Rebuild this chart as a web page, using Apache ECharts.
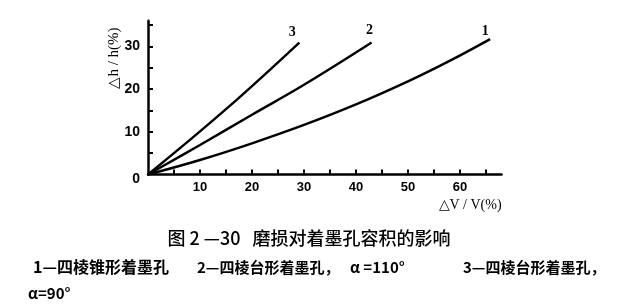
<!DOCTYPE html>
<html>
<head>
<meta charset="utf-8">
<script src="https://cdn.jsdelivr.net/npm/echarts@6/dist/echarts.min.js"></script>
<style>
html,body{margin:0;padding:0;background:#fff;}
#main{width:624px;height:307px;}
</style>
</head>
<body>
<div id="main"></div>
<script>
// ---- data ----
const curve1 = [[0,0],[10,3.4],[20,7.3],[30,11.6],[40,16.4],[50,21.8],[58,26.6],[65.8,31.7]];
const curve2 = [[0,0],[10,6.9],[20,14.0],[30,21.0],[43,30.9]];
const curve3 = [[0,0],[15,15.3],[29.1,30.9]];
const curveNames = ['1','2','3'];
const xTicks = [5,10,15,20,25,30,35,40,45,50,55,60,65];
const xLabels = [10,20,30,40,50,60];
const yTicks = [5,10,15,20,25,30,35];
const yLabels = [0,10,20,30];
const xName = '△V / V(%)';
const yName = '△h / h(%)';
const caption = '图 2 —30   磨损对着墨孔容积的影响';
const note1 = '1—四棱锥形着墨孔';
const note2 = '2—四棱台形着墨孔，';
const note3 = 'α =110°';
const note4 = '3—四棱台形着墨孔，';
const note5 = 'α=90°';

const chart = echarts.init(document.getElementById('main'), null, {renderer:'canvas'});

function endLabel(name, offset){
  return {show:true, formatter:name, distance:0, align:'center', verticalAlign:'middle', offset:offset,
    fontSize:14, fontWeight:'bold', color:'#000', fontFamily:'Liberation Serif'};
}
const lineStyle = {color:'#000', width:2.4};
const tickLabelFont = {fontFamily:'Liberation Sans', fontWeight:'bold', color:'#000'};

chart.setOption({
  backgroundColor:'#fff',
  animation:false,
  grid:{left:148, right:122.4, top:20.8, bottom:132.5, containLabel:false, outerBoundsMode:'none'},
  xAxis:{
    type:'value', min:0, max:68,
    name:xName, nameLocation:'end', nameGap:0,
    nameTextStyle:{align:'right', verticalAlign:'top', padding:[24,0,0,0],
      fontFamily:'Liberation Serif', fontSize:14, color:'#000'},
    axisLine:{show:true, lineStyle:{color:'#000', width:2.5}},
    axisTick:{show:true, inside:true, length:5, customValues:xTicks, lineStyle:{color:'#000', width:2}},
    axisLabel:Object.assign({show:true, margin:6, fontSize:13, customValues:xLabels}, tickLabelFont),
    splitLine:{show:false}
  },
  yAxis:{
    type:'value', min:0, max:36,
    axisLine:{show:true, lineStyle:{color:'#000', width:2.5}},
    axisTick:{show:true, inside:true, length:5, customValues:yTicks, lineStyle:{color:'#000', width:2}},
    axisLabel:Object.assign({show:true, margin:8, fontSize:14, customValues:yLabels,
      formatter:function(v){ return v===0 ? '{z|0}' : String(v); },
      rich:{z:{padding:[10,0,0,0], fontSize:14, fontWeight:'bold', fontFamily:'Liberation Sans', color:'#000'}}
    }, tickLabelFont),
    splitLine:{show:false}
  },
  series:[
    {type:'line', data:curve1, smooth:0.4, symbol:'none', lineStyle:lineStyle, endLabel:endLabel(curveNames[0], [-5,-8])},
    {type:'line', data:curve2, smooth:0.4, symbol:'none', lineStyle:lineStyle, endLabel:endLabel(curveNames[1], [-2,-12])},
    {type:'line', data:curve3, smooth:0.4, symbol:'none', lineStyle:lineStyle, endLabel:endLabel(curveNames[2], [-7,-10])}
  ],
  graphic:[
    {type:'text', x:114, y:58, rotation:Math.PI/2,
      style:{text:yName, fontFamily:'Liberation Serif', fontSize:15, fill:'#000', align:'center', verticalAlign:'middle'}},
    {type:'text', x:309, y:238,
      style:{text:caption, fontFamily:'Noto Sans CJK SC', fontSize:18, fontWeight:500, fill:'#000', align:'center', verticalAlign:'middle'}},
    {type:'text', x:33, y:267,
      style:{text:note1, fontFamily:'Noto Sans CJK SC', fontSize:16, fontWeight:'bold', fill:'#000', align:'left', verticalAlign:'middle'}},
    {type:'text', x:197, y:267,
      style:{text:note2, fontFamily:'Noto Sans CJK SC', fontSize:15, fontWeight:'bold', fill:'#000', align:'left', verticalAlign:'middle'}},
    {type:'text', x:350, y:267,
      style:{text:note3, fontFamily:'Noto Sans CJK SC', fontSize:15, fontWeight:'bold', fill:'#000', align:'left', verticalAlign:'middle'}},
    {type:'text', x:463, y:267,
      style:{text:note4, fontFamily:'Noto Sans CJK SC', fontSize:15, fontWeight:'bold', fill:'#000', align:'left', verticalAlign:'middle'}},
    {type:'text', x:28, y:293,
      style:{text:note5, fontFamily:'Noto Sans CJK SC', fontSize:15, fontWeight:'bold', fill:'#000', align:'left', verticalAlign:'middle'}}
  ]
});
</script>
</body>
</html>
